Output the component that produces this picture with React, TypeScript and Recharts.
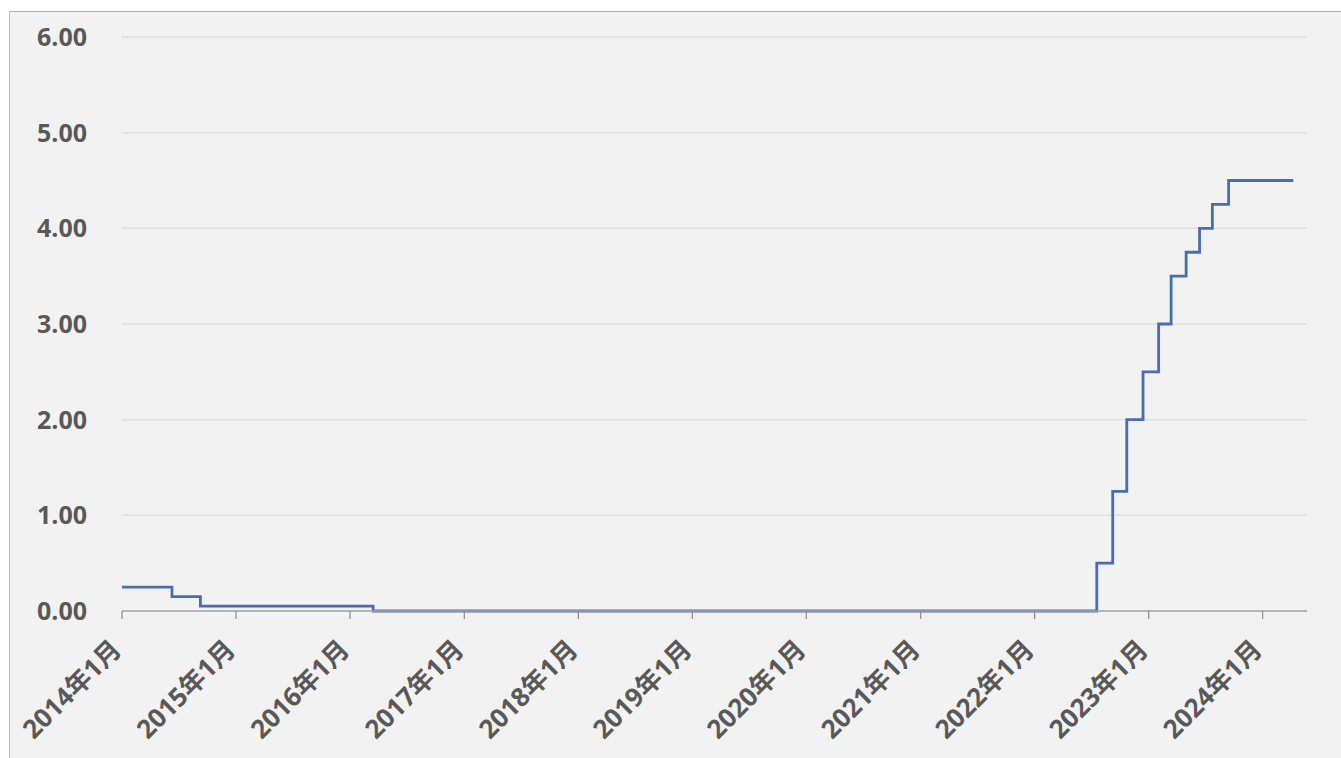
import React from "react"
import { LineChart, Line, XAxis, YAxis, CartesianGrid } from "recharts"

// rate changes (step after each date)
const rateDates = [
  "2014-01-01",
  "2014-06-10",
  "2014-09-09",
  "2016-03-15",
  "2022-07-19",
  "2022-09-08",
  "2022-10-23",
  "2022-12-14",
  "2023-02-02",
  "2023-03-14",
  "2023-05-01",
  "2023-06-13",
  "2023-07-24",
  "2023-09-14",
  "2024-04-08",
]
const rates = [0.25, 0.15, 0.05, 0, 0.5, 1.25, 2, 2.5, 3, 3.5, 3.75, 4, 4.25, 4.5, 4.5]

const tickDates = [
  "2014-01-01",
  "2015-01-01",
  "2016-01-01",
  "2017-01-01",
  "2018-01-01",
  "2019-01-01",
  "2020-01-01",
  "2021-01-01",
  "2022-01-01",
  "2023-01-01",
  "2024-01-01",
]
const tickLabels = [
  "2014年1月",
  "2015年1月",
  "2016年1月",
  "2017年1月",
  "2018年1月",
  "2019年1月",
  "2020年1月",
  "2021年1月",
  "2022年1月",
  "2023年1月",
  "2024年1月",
]
const yTicks = [0, 1, 2, 3, 4, 5, 6]
const xDomainDates = ["2014-01-01", "2024-05-22"]

const FONT = "'Open Sans', 'Noto Sans CJK SC', sans-serif"
const TEXT = "#595959"

const data = rateDates.map((d, i) => ({ t: Date.parse(d), rate: rates[i] }))
const xTicks = tickDates.map((d) => Date.parse(d))

const XTick = ({ x, y, payload }) => {
  const idx = xTicks.indexOf(payload.value)
  return (
    <g transform={`translate(${x + 1},${y + 30}) rotate(-45)`}>
      <text
        x={0}
        y={0}
        textAnchor="end"
        fill={TEXT}
        fontSize={26}
        fontWeight={700}
        fontFamily={FONT}
      >
        {idx >= 0 ? tickLabels[idx] : ""}
      </text>
    </g>
  )
}

export default function App() {
  return (
    <div style={{ position: "relative", width: 1341, height: 758, background: "#fff", overflow: "hidden" }}>
      <style>{"body{margin:0}"}</style>
      <div
        style={{
          position: "absolute",
          left: 9,
          top: 11,
          width: 1340,
          height: 760,
          background: "#f2f2f2",
          borderTop: "1.5px solid #9fb4cc",
          borderLeft: "1.5px solid #aac0da",
        }}
      />
      <div style={{ position: "absolute", left: 0, top: 0 }}>
        <LineChart width={1341} height={758} data={data} margin={{ top: 37, right: 34, left: 0, bottom: 0 }}>
          <CartesianGrid vertical={false} stroke="#dfdfdf" strokeWidth={1.5} />
          <XAxis
            dataKey="t"
            type="number"
            scale="linear"
            domain={xDomainDates.map((d) => Date.parse(d))}
            ticks={xTicks}
            interval={0}
            height={147}
            tickSize={8}
            axisLine={{ stroke: "#a6a6a6", strokeWidth: 1.5 }}
            tickLine={{ stroke: "#8c8c8c", strokeWidth: 1.2 }}
            tick={<XTick />}
          />
          <YAxis
            type="number"
            domain={[0, 6]}
            ticks={yTicks}
            width={122}
            axisLine={false}
            tickLine={false}
            tickSize={0}
            tickMargin={35}
            tickFormatter={(v) => v.toFixed(2)}
            tick={{ fill: TEXT, fontSize: 25, fontWeight: 700, fontFamily: FONT }}
          />
          <Line
            type="stepAfter"
            dataKey="rate"
            stroke="#4a6cb0"
            strokeWidth={2.8}
            dot={false}
            isAnimationActive={false}
          />
        </LineChart>
      </div>
    </div>
  )
}
